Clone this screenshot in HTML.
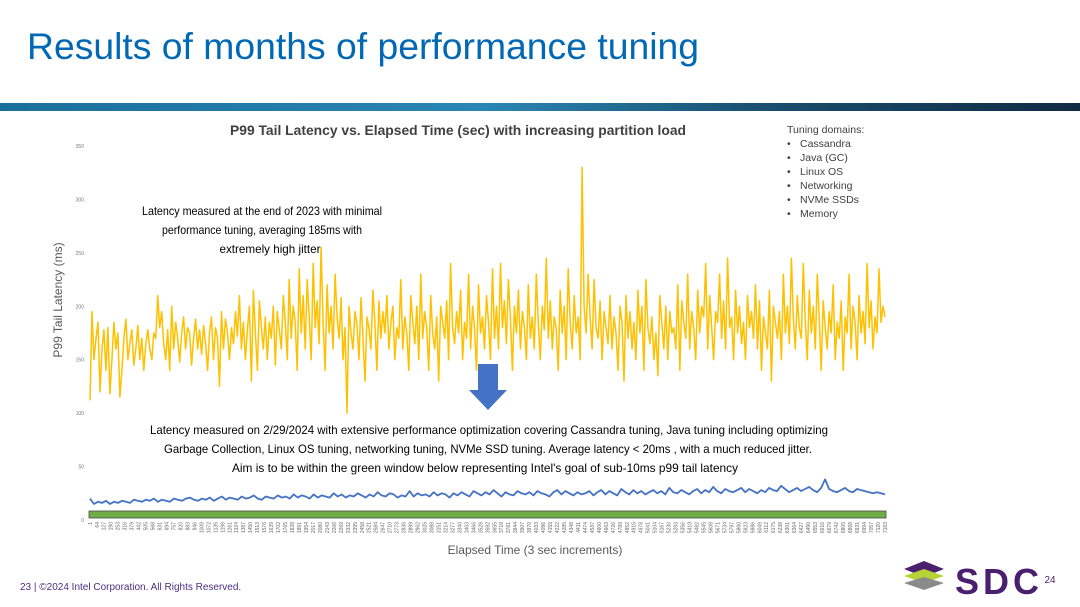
<!DOCTYPE html>
<html><head><meta charset="utf-8"><style>
body{margin:0;width:1080px;height:607px;overflow:hidden;background:#fff;font-family:"Liberation Sans",sans-serif;position:relative}
</style></head><body>
<svg id="chart" width="1080" height="607" style="position:absolute;left:0;top:0">
<text x="27" y="59" font-size="37" fill="#0068b5" textLength="672" lengthAdjust="spacingAndGlyphs">Results of months of performance tuning</text>
<defs><linearGradient id="hg" x1="0" x2="1"><stop offset="0" stop-color="#1a6e9c"/><stop offset="0.45" stop-color="#2a86b4"/><stop offset="0.7" stop-color="#1a5070"/><stop offset="1" stop-color="#0f2a44"/></linearGradient></defs>
<rect x="0" y="103" width="1080" height="8" fill="url(#hg)"/>
<text x="458" y="135" text-anchor="middle" font-size="14" font-weight="bold" fill="#404040" textLength="456" lengthAdjust="spacingAndGlyphs">P99 Tail Latency vs. Elapsed Time (sec) with increasing partition load</text>
<text transform="translate(62,300) rotate(-90)" text-anchor="middle" font-size="12" fill="#595959">P99 Tail Latency (ms)</text>
<text x="535" y="554" text-anchor="middle" font-size="12" fill="#595959">Elapsed Time (3 sec increments)</text>
<rect x="89" y="511" width="797" height="7" fill="#70ad47" stroke="#4a4a4a" stroke-width="0.8"/>
<g id="yt"></g><g id="xt"></g>
<polyline id="ly" fill="none" stroke="#ffc000" stroke-width="1.5" stroke-linejoin="round"/>
<polyline id="lb" fill="none" stroke="#4472c4" stroke-width="1.8" stroke-linejoin="round"/>
<g font-size="12" fill="#000" text-anchor="middle">
<text x="262" y="215" textLength="240" lengthAdjust="spacingAndGlyphs">Latency measured at the end of 2023 with minimal</text>
<text x="262" y="234" textLength="200" lengthAdjust="spacingAndGlyphs">performance tuning, averaging 185ms with</text>
<text x="270" y="253" textLength="101" lengthAdjust="spacingAndGlyphs">extremely high jitter</text></g>
<path d="M478,364h20v26h9l-19,20l-19,-20h9z" fill="#4472c4"/>
<g font-size="12" fill="#000" text-anchor="middle">
<text x="489" y="434" textLength="678" lengthAdjust="spacingAndGlyphs">Latency measured on 2/29/2024 with extensive performance optimization covering Cassandra tuning, Java tuning including optimizing</text>
<text x="488" y="453" textLength="648" lengthAdjust="spacingAndGlyphs">Garbage Collection, Linux OS tuning, networking tuning, NVMe SSD tuning.  Average latency  &lt; 20ms , with a much reduced jitter.</text>
<text x="485" y="472" textLength="506" lengthAdjust="spacingAndGlyphs">Aim is to be within the green window below representing Intel's goal of sub-10ms p99 tail latency</text></g>
<g font-size="10.5" fill="#404040">
<text x="787" y="133">Tuning domains:</text>
<text x="787" y="147">•</text><text x="800" y="147">Cassandra</text>
<text x="787" y="161">•</text><text x="800" y="161">Java (GC)</text>
<text x="787" y="175">•</text><text x="800" y="175">Linux OS</text>
<text x="787" y="189">•</text><text x="800" y="189">Networking</text>
<text x="787" y="203">•</text><text x="800" y="203">NVMe SSDs</text>
<text x="787" y="217">•</text><text x="800" y="217">Memory</text></g>
<text x="20" y="590" font-size="10" fill="#4b2e83">23 | ©2024 Intel Corporation. All Rights Reserved.</text>
<g>
<path d="M904,569l20,-8l20,8l-20,8z" fill="#4b1f6f"/><path d="M904,576l20,-7l20,7l-20,7z" fill="#b5d334"/><path d="M904,583l20,-6l20,6l-20,7z" fill="#8a8a8a"/>
<text x="955" y="594" font-size="36" font-weight="bold" fill="#4b1f6f" letter-spacing="4">SDC</text>
<circle cx="1050" cy="579" r="8" fill="#fff"/><text x="1050" y="583" font-size="10" fill="#4b1f6f" text-anchor="middle">24</text></g>
</svg>
<script>
const yTicks=[0,50,100,150,200,250,300,350];
const yellowValues=[
112,195,150,170,185,120,160,178,140,180,118,150,185,160,175,115,140,170,188,150,165,178,145,160,182,150,170,140,165,178,160,150,175,170,210,180,195,165,150,178,140,200,160,185,170,148,175,190,160,180,175,145,170,188,160,178,155,182,165,140,175,190,150,180,170,125,195,160,188,175,150,180,165,195,172,210,160,185,150,178,200,130,215,175,140,205,180,160,190,150,185,170,200,145,195,178,160,210,185,150,
225,170,200,185,140,235,175,210,160,225,190,150,240,180,205,165,255,185,140,220,175,200,160,230,190,170,208,150,180,100,200,175,160,195,182,150,208,170,130,190,180,160,215,185,140,205,170,195,175,210,160,185,200,150,180,170,225,160,190,175,140,210,185,165,200,150,230,170,195,180,140,210,175,160,190,130,200,185,170,205,150,240,180,165,195,175,215,150,185,170,230,160,200,180,140,220,175,190,160,210,
185,150,235,170,200,160,240,180,205,165,225,190,140,200,175,215,160,195,180,150,220,170,190,160,230,185,150,200,178,245,170,205,160,190,180,140,215,175,200,150,235,185,160,210,175,190,150,330,200,175,230,190,160,225,180,170,205,150,195,180,165,210,160,190,175,140,200,185,130,210,170,195,160,185,150,215,175,200,140,225,180,165,190,150,175,135,210,185,160,200,150,195,175,180,160,220,140,205,185,170,
230,160,195,180,150,215,175,200,190,240,160,210,180,150,195,185,230,170,205,160,245,180,190,150,215,175,200,165,185,150,210,180,195,170,220,160,205,140,190,175,160,215,130,200,185,170,195,150,230,175,200,165,245,190,160,210,180,170,240,185,150,215,175,200,160,230,190,140,205,180,160,195,175,220,150,185,170,205,140,190,175,230,160,200,185,150,210,175,195,165,240,180,205,160,190,175,235,185,200,190];
const blueValues=[20,15,17,16,18,15,17,16,18,17,16,19,18,17,19,18,20,17,19,18,17,20,19,18,20,21,19,18,20,19,21,18,20,22,19,21,20,19,22,20,21,23,20,19,22,21,20,23,21,22,20,24,21,23,22,20,24,21,23,22,21,25,22,24,21,23,22,25,23,21,24,22,26,23,22,25,24,21,23,22,27,22,25,23,24,22,26,23,25,24,21,25,23,26,24,22,27,25,23,26,
24,28,25,22,26,24,23,27,25,24,26,23,27,25,24,22,26,28,24,27,25,23,26,24,25,27,23,26,28,24,27,25,23,29,26,24,28,25,27,24,26,28,25,27,24,30,26,25,28,26,24,27,29,25,28,26,31,27,25,29,27,26,28,30,26,29,27,25,28,26,30,28,27,32,29,26,28,30,27,29,31,28,26,30,38,29,27,26,28,30,27,26,29,28,27,26,25,26,25,24];
const xStart=1,xStep=63,xCount=115;
const X0=90,X1=885,Y0=520,Ypx=374/350;
const ys=v=>Y0-v*Ypx;
const ns='http://www.w3.org/2000/svg';
const yt=document.getElementById('yt');
yTicks.forEach(v=>{const t=document.createElementNS(ns,'text');


t.setAttribute('x',X0-6);t.setAttribute('y',ys(v)+2);t.setAttribute('font-size','5');t.setAttribute('fill','#777');t.setAttribute('text-anchor','end');t.textContent=v;yt.appendChild(t);});
const xt=document.getElementById('xt');
for(let i=0;i<xCount;i++){const v=xStart+i*xStep;const x=X0+i*(X1-X0)/(xCount-1);
const t=document.createElementNS(ns,'text');


t.setAttribute('transform',`translate(${x+1.8},522) rotate(-90)`);t.setAttribute('font-size','5');t.setAttribute('fill','#666');t.setAttribute('text-anchor','end');t.textContent=v;xt.appendChild(t);}
function pts(a){return a.map((v,i)=>(X0+i*(X1-X0)/(a.length-1)).toFixed(1)+','+ys(v).toFixed(1)).join(' ');}
document.getElementById('ly').setAttribute('points',pts(yellowValues));
document.getElementById('lb').setAttribute('points',pts(blueValues));
</script>
</body></html>
